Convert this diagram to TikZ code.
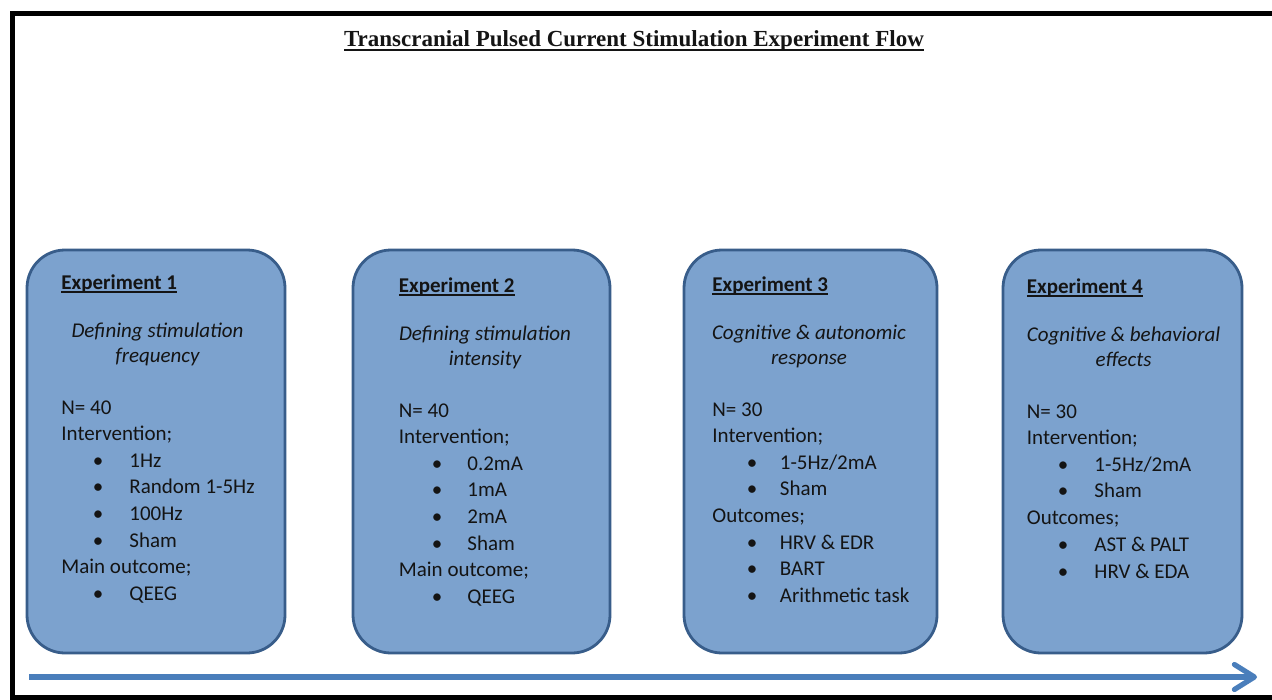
\documentclass[tikz,border=0pt]{standalone}
\usepackage{fontspec}
\setmainfont{Carlito}
\newfontfamily\titlefont{Liberation Serif}
\usetikzlibrary{arrows.meta}
\definecolor{boxfill}{RGB}{124,162,206}
\definecolor{boxline}{RGB}{56,93,138}
\definecolor{arrowblue}{RGB}{74,126,187}
\definecolor{ink}{RGB}{20,20,20}
\newcommand{\bodyfnt}{\fontsize{10.5}{13}\selectfont}
\newcommand{\myul}[3]{\setbox0=\hbox{#3}\leavevmode\rlap{\rule[-#1]{\wd0}{#2}}\box0}
\begin{document}
\begin{tikzpicture}[x=0.5pt,y=-0.5pt,
  expbox/.style={draw=boxline, fill=boxfill, line width=1.4pt, rounded corners=19pt,
    minimum height=201.5pt, inner sep=0pt},
  hd/.style={anchor=base west, inner sep=0pt, font=\bodyfnt\bfseries, text=ink},
  itl/.style={anchor=base, inner sep=0pt, font=\bodyfnt\itshape, text=ink},
  tx/.style={anchor=base west, inner sep=0pt, font=\bodyfnt, text=ink},
  bl/.style={anchor=base, inner sep=0pt, font=\bodyfnt, text=ink}]
\useasboundingbox (0,0) rectangle (1272,700);
\fill[white] (0,0) rectangle (1272,700);
% frame
\draw[line width=2.5pt] (1280,13.5) -- (12.5,13.5) -- (12.5,697) -- (1280,697);
% title
\node[anchor=base, inner sep=0pt, font=\titlefont\fontsize{11.5}{13}\selectfont\bfseries, text=ink]
  (title) at (634,46.7) {\myul{2.4pt}{1pt}{Transcranial Pulsed Current Stimulation Experiment Flow}};
% boxes
\node[expbox, minimum width=129pt] (box1) at (156,451.5) {};
\node[expbox, minimum width=128.5pt] (box2) at (481.5,451.5) {};
\node[expbox, minimum width=126.5pt] (box3) at (810.5,451.5) {};
\node[expbox, minimum width=119.5pt] (box4) at (1122.5,451.5) {};
% box 1
\node[hd] (h1) at (61,289) {\myul{1.9pt}{0.7pt}{Experiment 1}};
\node[itl] (i1a) at (157.5,337) {Defining stimulation};
\node[itl] (i1b) at (157.5,362.5) {frequency};
\node[tx] (a1) at (61,414) {N= 40};
\node[tx] (a2) at (61,440.6) {Intervention;};
\node[bl] (a3b) at (98,467.2) {•};   \node[tx] (a3) at (129,467.2) {1Hz};
\node[bl] (a4b) at (98,493.8) {•};   \node[tx] (a4) at (129,493.8) {Random 1-5Hz};
\node[bl] (a5b) at (98,520.4) {•};   \node[tx] (a5) at (129,520.4) {100Hz};
\node[bl] (a6b) at (98,547) {•};     \node[tx] (a6) at (129,547) {Sham};
\node[tx] (a7) at (61,573.6) {Main outcome;};
\node[bl] (a8b) at (98,600.2) {•};   \node[tx] (a8) at (129,600.2) {QEEG};
% box 2
\node[hd] (h2) at (398.5,292) {\myul{1.9pt}{0.7pt}{Experiment 2}};
\node[itl] (i2a) at (485,340) {Defining stimulation};
\node[itl] (i2b) at (485,365.5) {intensity};
\node[tx] (b1) at (398.5,417) {N= 40};
\node[tx] (b2) at (398.5,443.6) {Intervention;};
\node[bl] (b3b) at (437,470.2) {•};  \node[tx] (b3) at (467,470.2) {0.2mA};
\node[bl] (b4b) at (437,496.8) {•};  \node[tx] (b4) at (467,496.8) {1mA};
\node[bl] (b5b) at (437,523.4) {•};  \node[tx] (b5) at (467,523.4) {2mA};
\node[bl] (b6b) at (437,550) {•};    \node[tx] (b6) at (467,550) {Sham};
\node[tx] (b7) at (398.5,576.6) {Main outcome;};
\node[bl] (b8b) at (437,603.2) {•};  \node[tx] (b8) at (467,603.2) {QEEG};
% box 3
\node[hd] (h3) at (712,291) {\myul{1.9pt}{0.7pt}{Experiment 3}};
\node[itl] (i3a) at (809,339) {Cognitive \& autonomic};
\node[itl] (i3b) at (809,364.5) {response};
\node[tx] (c1) at (712,416) {N= 30};
\node[tx] (c2) at (712,442.6) {Intervention;};
\node[bl] (c3b) at (752,469.2) {•};  \node[tx] (c3) at (779.5,469.2) {1-5Hz/2mA};
\node[bl] (c4b) at (752,495.8) {•};  \node[tx] (c4) at (779.5,495.8) {Sham};
\node[tx] (c5) at (712,522.4) {Outcomes;};
\node[bl] (c6b) at (752,549) {•};    \node[tx] (c6) at (779.5,549) {HRV \& EDR};
\node[bl] (c7b) at (752,575.6) {•};  \node[tx] (c7) at (779.5,575.6) {BART};
\node[bl] (c8b) at (752,602.2) {•};  \node[tx] (c8) at (779.5,602.2) {Arithmetic task};
% box 4
\node[hd] (h4) at (1026.5,293) {\myul{1.9pt}{0.7pt}{Experiment 4}};
\node[itl] (i4a) at (1123.5,341) {Cognitive \& behavioral};
\node[itl] (i4b) at (1123.5,366.5) {effects};
\node[tx] (d1) at (1026.5,418) {N= 30};
\node[tx] (d2) at (1026.5,444.6) {Intervention;};
\node[bl] (d3b) at (1063,471.2) {•};  \node[tx] (d3) at (1094,471.2) {1-5Hz/2mA};
\node[bl] (d4b) at (1063,497.8) {•};  \node[tx] (d4) at (1094,497.8) {Sham};
\node[tx] (d5) at (1026.5,524.4) {Outcomes;};
\node[bl] (d6b) at (1063,551) {•};    \node[tx] (d6) at (1094,551) {AST \& PALT};
\node[bl] (d7b) at (1063,578) {•};    \node[tx] (d7) at (1094,578) {HRV \& EDA};
% timeline arrow
\coordinate (tstart) at (29,677);
\coordinate (tend) at (1257,677);
\draw[arrowblue, line width=2.6pt, -{Straight Barb[length=10pt,width=12.5pt,round]}] (tstart) -- (tend);
\end{tikzpicture}
\end{document}
